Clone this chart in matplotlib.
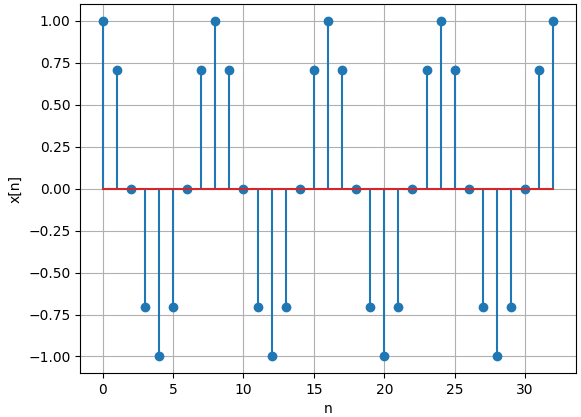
import matplotlib
matplotlib.use("Agg")
import matplotlib.pyplot as plt
import numpy as np

# sample index and values
n = list(range(33))
x = [1.0, 0.707, 0.0, -0.707, -1.0, -0.707, 0.0, 0.707,
     1.0, 0.707, 0.0, -0.707, -1.0, -0.707, 0.0, 0.707,
     1.0, 0.707, 0.0, -0.707, -1.0, -0.707, 0.0, 0.707,
     1.0, 0.707, 0.0, -0.707, -1.0, -0.707, 0.0, 0.707,
     1.0]

fig = plt.figure(figsize=(5.81, 4.17), dpi=100)
ax = fig.add_axes([0.138, 0.105, 0.853, 0.885])
ax.stem(n, x)
ax.set_xlabel("n")
ax.set_ylabel("x[n]")
ax.grid(True)
fig.savefig("out.png", dpi=100)
